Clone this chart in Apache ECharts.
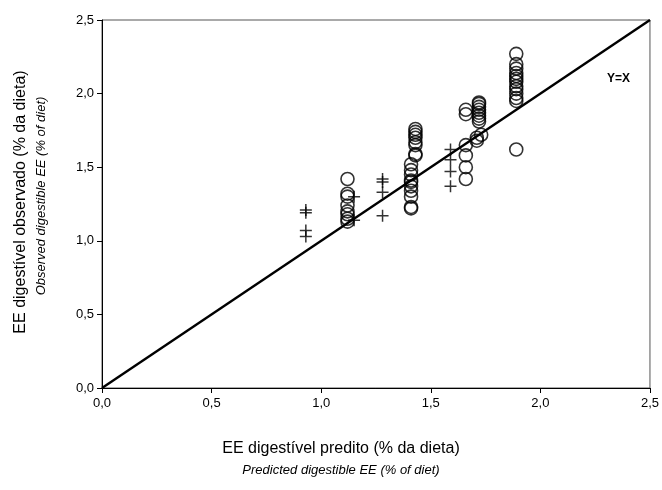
<!DOCTYPE html>
<html>
<head>
<meta charset="utf-8">
<script src="https://cdn.jsdelivr.net/npm/echarts@6/dist/echarts.min.js"></script>
<style>html,body{margin:0;padding:0;background:#fff}#c{width:662px;height:490px}</style>
</head>
<body>
<div id="c"></div>
<script>
// Observed values grouped by predicted value (circles)
const circleX = [
  1.12,1.12,1.12,1.12,1.12,1.12,1.12,1.12,
  1.41,1.41,1.41,1.41,1.41,1.41,1.41,1.41,1.41,1.41,
  1.43,1.43,1.43,1.43,1.43,1.43,1.43,1.43,
  1.66,1.66,1.66,1.66,1.66,1.66,
  1.72,1.72,1.72,1.72,1.72,1.72,1.72,1.72,1.71,1.71,1.73,
  1.89,1.89,1.89,1.89,1.89,1.89,1.89,1.89,1.89,1.89,1.89,1.89,1.89
];
const circleY = [
  1.42,1.32,1.30,1.24,1.20,1.18,1.15,1.13,
  1.22,1.23,1.30,1.34,1.37,1.40,1.41,1.45,1.48,1.52,
  1.58,1.59,1.65,1.67,1.70,1.72,1.74,1.76,
  1.89,1.86,1.65,1.58,1.50,1.42,
  1.94,1.93,1.91,1.89,1.87,1.85,1.83,1.81,1.68,1.70,1.72,
  2.27,2.20,2.17,2.14,2.12,2.10,2.08,2.05,2.03,2.00,1.97,1.95,1.62
];
// Crosses
const crossX = [0.93,0.93,0.93,0.93, 1.15,1.15, 1.28,1.28,1.28,1.28, 1.59,1.59,1.59,1.59];
const crossY = [1.21,1.19,1.07,1.03, 1.30,1.14, 1.42,1.40,1.33,1.17, 1.62,1.55,1.47,1.37];
const axisTicks = [0, 0.5, 1.0, 1.5, 2.0, 2.5];
const lineEnds = [[0,0],[2.5,2.5]];

const circles = circleX.map((x,i)=>[x, circleY[i]]);
const crosses = crossX.map((x,i)=>[x, crossY[i]]);
const fmt = v => v.toFixed(1).replace('.', ',');
const FONT = '"Liberation Sans", Arial, sans-serif';

const chart = echarts.init(document.getElementById('c'), null, {renderer:'canvas'});
chart.setOption({
  animation:false,
  backgroundColor:'#fff',
  grid:{left:102, right:11, top:20, bottom:102, show:true, borderColor:'#555', borderWidth:1},
  xAxis:{type:'value', min:axisTicks[0], max:axisTicks[axisTicks.length-1], interval:0.5,
    axisLine:{show:true, onZero:false, lineStyle:{color:'#000', width:1}},
    axisTick:{show:true, inside:false, length:5, lineStyle:{color:'#000'}},
    splitLine:{show:false},
    axisLabel:{formatter:fmt, color:'#000', fontSize:13, fontFamily:FONT, margin:9}},
  yAxis:{type:'value', min:axisTicks[0], max:axisTicks[axisTicks.length-1], interval:0.5,
    axisLine:{show:true, onZero:false, lineStyle:{color:'#000', width:1}},
    axisTick:{show:true, inside:false, length:5, lineStyle:{color:'#000'}},
    splitLine:{show:false},
    axisLabel:{formatter:fmt, color:'#000', fontSize:13, fontFamily:FONT, margin:8}},
  series:[
    {type:'line', data:lineEnds, symbol:'none', lineStyle:{color:'#000', width:2.4}, z:3},
    {type:'scatter', data:circles, symbol:'circle', symbolSize:13,
      itemStyle:{color:'rgba(0,0,0,0)', borderColor:'#000', borderWidth:1.6}, z:2},
    {type:'scatter', data:crosses, symbol:'path://M5,0L5,10M0,5L10,5', symbolSize:12,
      itemStyle:{color:'none', borderColor:'#000', borderWidth:1.5}, z:2}
  ],
  graphic:[
    {type:'text', left:607, top:73, style:{text:'Y=X', font:'bold 12px '+FONT, fill:'#000'}},
    {type:'text', x:341, y:449, style:{text:'EE digestível predito (% da dieta)', font:'16px '+FONT, fill:'#000', align:'center', verticalAlign:'middle'}},
    {type:'text', x:341, y:470, style:{text:'Predicted digestible EE (% of diet)', font:'italic 13px '+FONT, fill:'#000', align:'center', verticalAlign:'middle'}},
    {type:'text', x:21, y:202, rotation:Math.PI/2, style:{text:'EE digestível observado (% da dieta)', font:'16px '+FONT, fill:'#000', align:'center', verticalAlign:'middle'}},
    {type:'text', x:41, y:196, rotation:Math.PI/2, style:{text:'Observed digestible EE (% of diet)', font:'italic 13px '+FONT, fill:'#000', align:'center', verticalAlign:'middle'}}
  ]
});
</script>
</body>
</html>
